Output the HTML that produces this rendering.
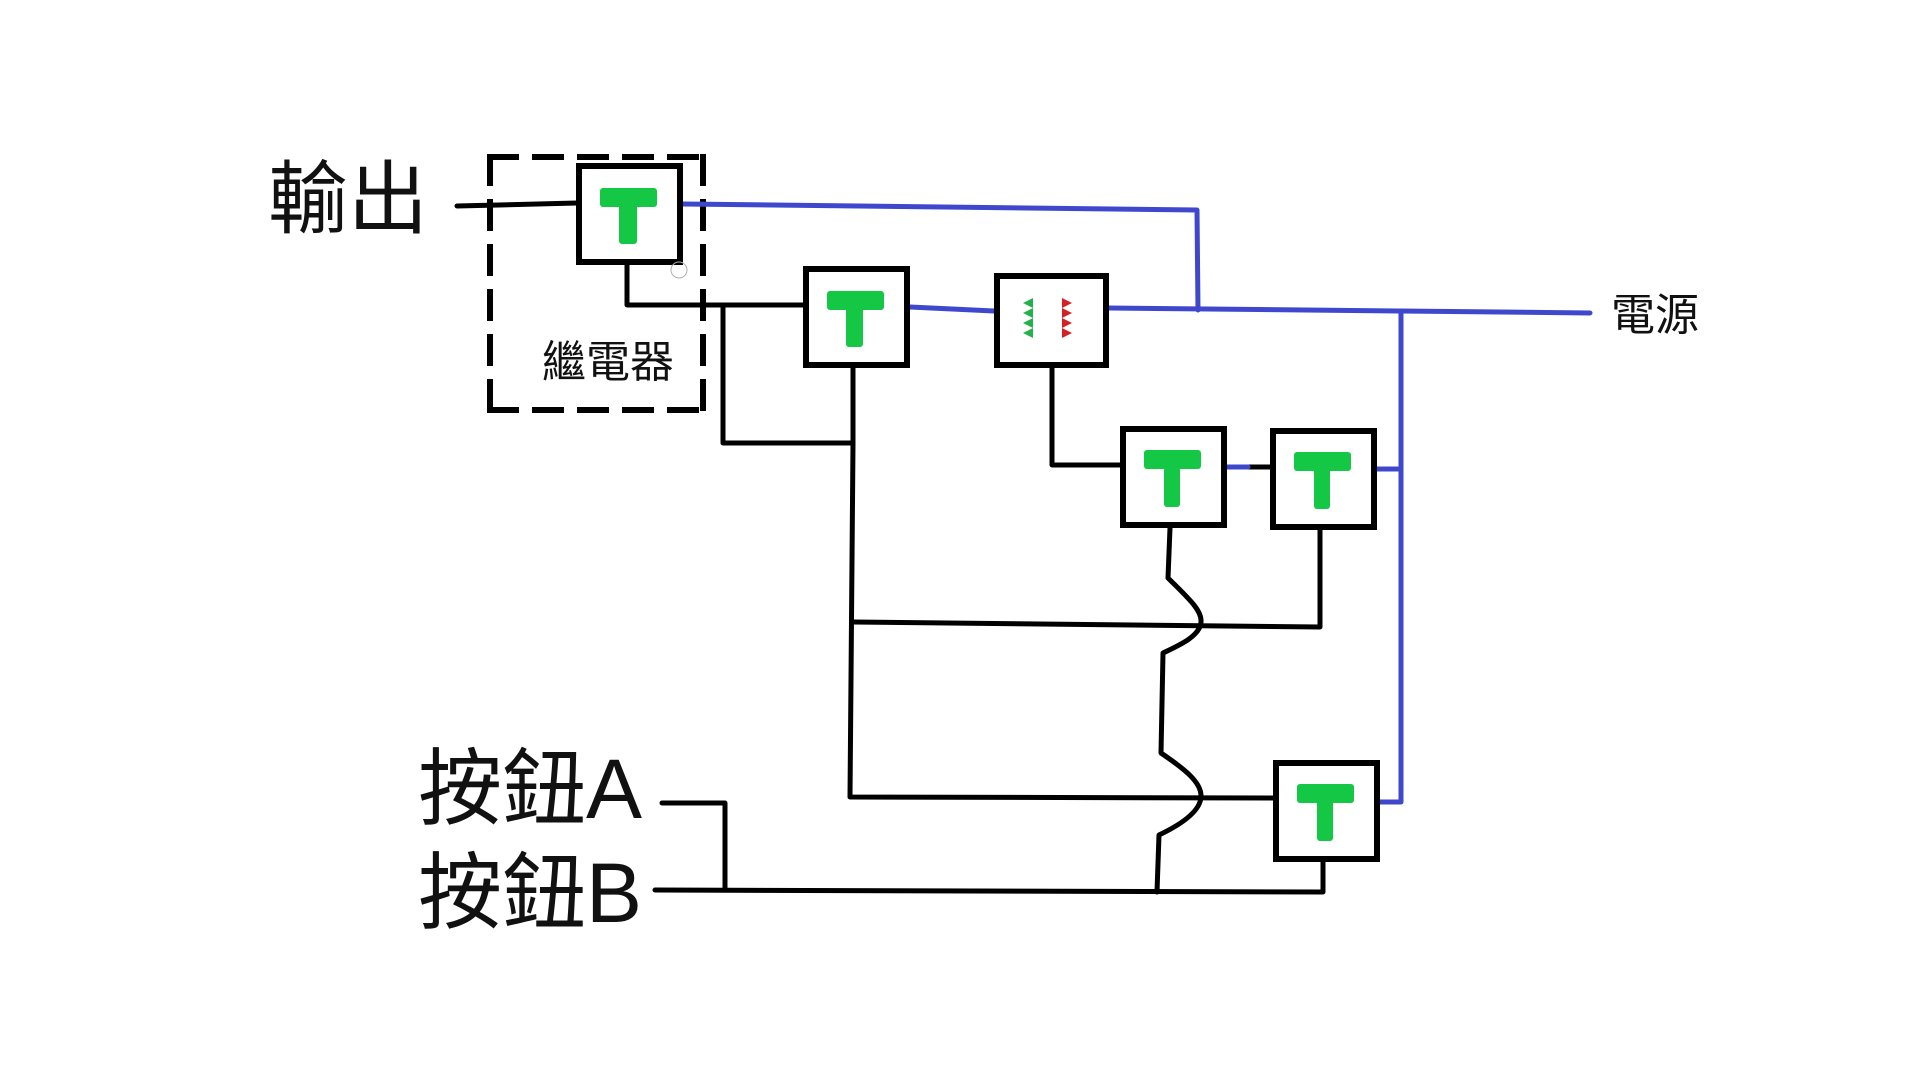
<!DOCTYPE html>
<html>
<head>
<meta charset="utf-8">
<style>
html,body{margin:0;padding:0;background:#fff;}
svg{display:block;}
text{font-family:"Liberation Sans","Noto Sans CJK TC",sans-serif;fill:#111;}
</style>
</head>
<body>
<svg width="1920" height="1086" viewBox="0 0 1920 1086" xmlns="http://www.w3.org/2000/svg">
<rect width="1920" height="1086" fill="#fff"/>

<!-- labels -->
<text x="268" y="227" font-size="80">輸出</text>
<text x="542" y="377" font-size="44">繼電器</text>
<text x="1611" y="330" font-size="44">電源</text>
<text x="418" y="818" font-size="84">按鈕A</text>
<text x="418" y="922" font-size="84">按鈕B</text>

<!-- dashed relay boundary -->
<g stroke="#000" stroke-width="6" fill="none" stroke-dasharray="32 13">
  <line x1="487" y1="157" x2="707" y2="157"/>
  <line x1="490" y1="154" x2="490" y2="413"/>
  <line x1="487" y1="410" x2="707" y2="410"/>
  <line x1="703" y1="154" x2="703" y2="413"/>
</g>

<!-- black wires -->
<g stroke="#000" stroke-width="5" fill="none" stroke-linecap="round" stroke-linejoin="round">
  <polyline points="457,206 577,203"/>
  <polyline points="627,265 627,305 803,305"/>
  <polyline points="723,305 723,443 853,443"/>
  <polyline points="853,368 853,443 850,797 1273,798"/>
  <polyline points="853,622 1320,627 1320,530"/>
  <polyline points="1052,368 1052,465 1120,465"/>
  <polyline points="1248,467 1270,467"/>
  <polyline points="662,803 725,803 725,890"/>
  <polyline points="655,890 1323,892 1323,862"/>
  <path d="M1170,528 L1168,578 C1188,598 1202,610 1201,622 C1200,636 1180,645 1163,653 L1161,753 C1183,768 1202,782 1201,797 C1200,812 1180,825 1159,835 L1157,892"/>
</g>

<!-- blue wires -->
<g stroke="#3f48cc" stroke-width="5" fill="none" stroke-linecap="round" stroke-linejoin="round">
  <polyline points="683,204 1197,210 1198,310"/>
  <polyline points="910,307 994,311"/>
  <polyline points="1109,308 1401,311 1590,313"/>
  <polyline points="1401,311 1401,802 1380,802"/>
  <polyline points="1377,469 1401,469"/>
  <polyline points="1227,467 1248,467"/>
</g>

<!-- boxes -->
<g stroke="#000" stroke-width="6" fill="#fff">
  <rect x="579" y="166" width="101" height="96"/>
  <rect x="806" y="269" width="101" height="96"/>
  <rect x="997" y="276" width="109" height="89"/>
  <rect x="1123" y="429" width="101" height="96"/>
  <rect x="1273" y="431" width="101" height="96"/>
  <rect x="1276" y="763" width="101" height="96"/>
</g>

<!-- green T symbols -->
<g fill="#14c846">
  <g transform="translate(576,163)"><rect x="24" y="25" width="57" height="19" rx="3"/><rect x="43" y="38" width="18" height="43" rx="3"/></g>
  <g transform="translate(803,266)"><rect x="24" y="25" width="57" height="19" rx="3"/><rect x="43" y="38" width="17" height="43" rx="3"/></g>
  <g transform="translate(1120,426)"><rect x="24" y="24" width="57" height="19" rx="3"/><rect x="44" y="38" width="16" height="43" rx="3"/></g>
  <g transform="translate(1270,428)"><rect x="24" y="24" width="57" height="19" rx="3"/><rect x="44" y="38" width="16" height="43" rx="3"/></g>
  <g transform="translate(1273,760)"><rect x="24" y="24" width="57" height="19" rx="3"/><rect x="44" y="38" width="16" height="43" rx="3"/></g>
</g>

<!-- coil symbol -->
<polygon fill="#22b14c" points="1033,298 1023,303 1033,308 1023,313 1033,318 1023,323 1033,328 1023,333 1033,338"/>
<polygon fill="#d42027" points="1062,298 1072,303 1062,308 1072,313 1062,318 1072,323 1062,328 1072,333 1062,338"/>

<!-- small cursor circle -->
<circle cx="679" cy="270" r="8" fill="none" stroke="#b0b0b0" stroke-width="1"/>
</svg>
</body>
</html>
